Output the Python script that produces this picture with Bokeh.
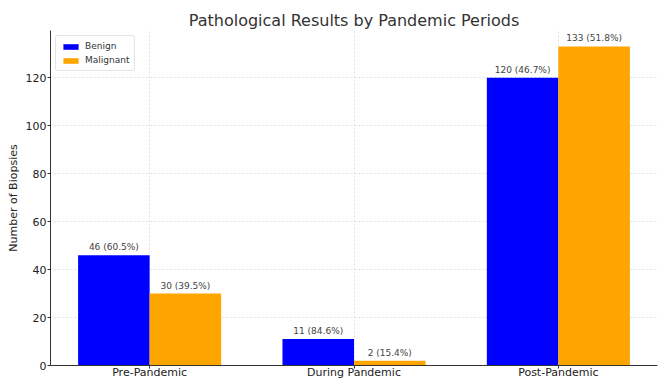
from bokeh.plotting import figure
from bokeh.models import ColumnDataSource, FixedTicker, Range1d, Legend, LegendItem
from bokeh.core.properties import value
from bokeh.embed import file_html
from bokeh.resources import INLINE

categories = ["Pre-Pandemic", "During Pandemic", "Post-Pandemic"]
benign = [46, 11, 120]
malignant = [30, 2, 133]
benign_pct = ["60.5%", "84.6%", "46.7%"]
malignant_pct = ["39.5%", "15.4%", "51.8%"]
y_ticks = [0, 20, 40, 60, 80, 100, 120]

W = 0.35
FONT = "DejaVu Sans"

xs = list(range(len(categories)))
src_b = ColumnDataSource(dict(
    x=[i - W / 2 for i in xs], top=benign,
    lab=[f"{v} ({p})" for v, p in zip(benign, benign_pct)]))
src_m = ColumnDataSource(dict(
    x=[i + W / 2 for i in xs], top=malignant,
    lab=[f"{v} ({p})" for v, p in zip(malignant, malignant_pct)]))

p = figure(width=658, height=381, output_backend="svg", toolbar_location=None,
           x_range=Range1d(-0.485, 2.485), y_range=Range1d(0, 139.65),
           min_border_left=50, min_border_right=1, min_border_top=30, min_border_bottom=0)

p.title.text = "Pathological Results by Pandemic Periods"
p.title.align = "center"
p.title.text_font = FONT
p.title.text_font_size = "16px"
p.title.text_font_style = "normal"
p.title.text_color = "#333333"
p.title.offset = 0
p.title.standoff = 2

rb = p.vbar(x="x", top="top", width=W, source=src_b, color="#0000ff", line_color=None)
rm = p.vbar(x="x", top="top", width=W, source=src_m, color="#ffa500", line_color=None)

for s in (src_b, src_m):
    p.text(x="x", y="top", text="lab", source=s, text_align="center", text_baseline="bottom",
           y_offset=-3, text_font=value(FONT), text_font_size="9px", text_color="#444444")

p.xaxis.ticker = FixedTicker(ticks=xs)
p.xaxis.major_label_overrides = {i: c for i, c in enumerate(categories)}
p.yaxis.ticker = FixedTicker(ticks=y_ticks)
for ax in (p.xaxis[0], p.yaxis[0]):
    ax.major_label_text_font = FONT
    ax.major_label_text_font_size = "11px"
    ax.major_label_text_color = "#222222"
    ax.axis_line_color = "#333333"
    ax.major_tick_line_color = "#333333"
    ax.major_tick_out = 3
    ax.major_tick_in = 0
    ax.minor_tick_line_color = None
    ax.major_label_standoff = 1
p.xaxis.major_label_standoff = -3
p.yaxis.axis_label = "Number of Biopsies"
p.yaxis.axis_label_text_font = FONT
p.yaxis.axis_label_text_font_size = "11px"
p.yaxis.axis_label_text_font_style = "normal"
p.yaxis.axis_label_text_color = "#222222"
p.yaxis.axis_label_standoff = 3

p.grid.grid_line_color = "#d8d8d8"
p.grid.grid_line_dash = "2 2"
p.grid.grid_line_width = 0.8
p.outline_line_color = None

legend = Legend(items=[LegendItem(label="Benign", renderers=[rb]),
                       LegendItem(label="Malignant", renderers=[rm])],
                location="top_left")
legend.label_text_font = FONT
legend.label_text_font_size = "9px"
legend.label_text_color = "#333333"
legend.glyph_width = 19
legend.glyph_height = 7
legend.label_height = 10
legend.spacing = 4
legend.padding = 5
legend.margin = 5
legend.border_line_color = "#cccccc"
legend.border_radius = 3
p.add_layout(legend)

open("out.html", "w").write(file_html(p, INLINE))
